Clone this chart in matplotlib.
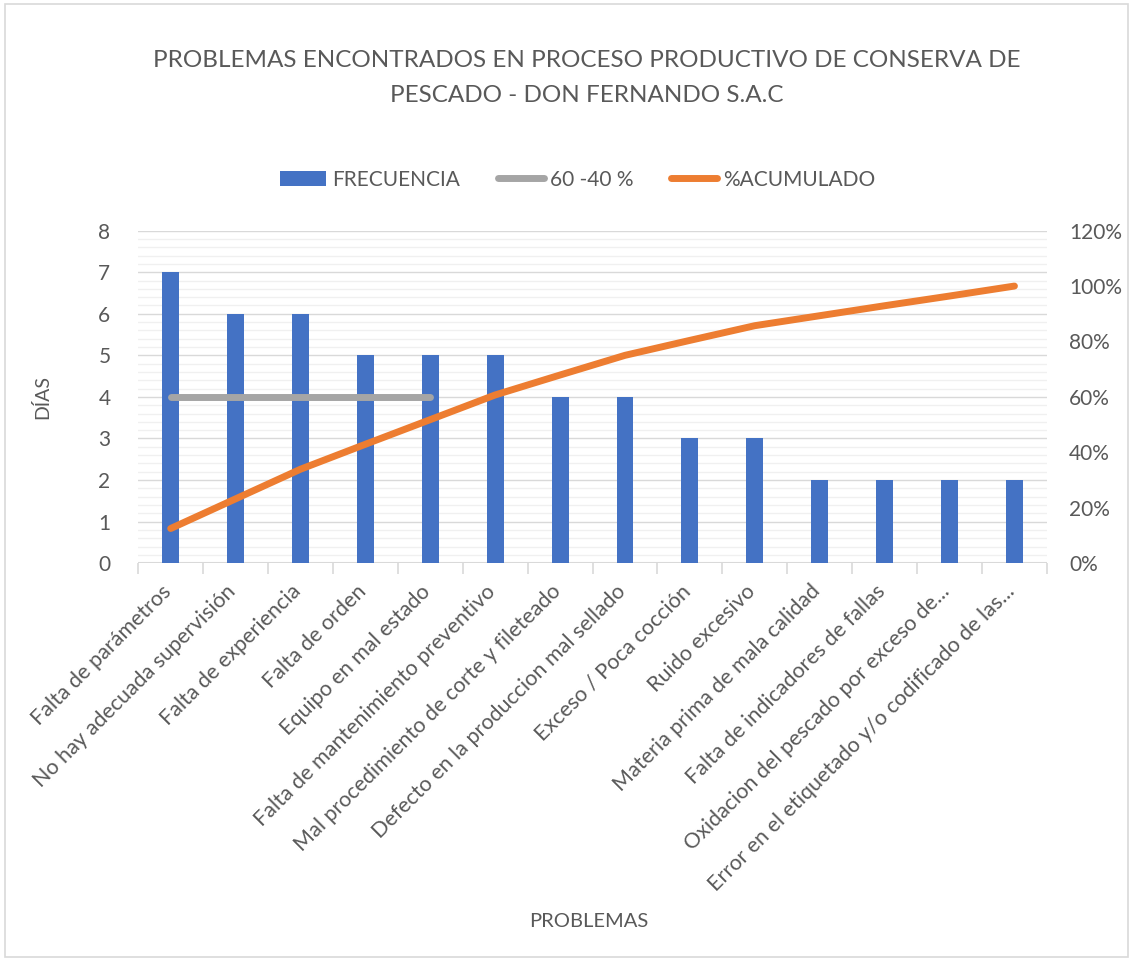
import matplotlib.pyplot as plt
from matplotlib.ticker import MultipleLocator, FuncFormatter
from matplotlib.lines import Line2D
from matplotlib.patches import Patch

plt.rcParams['font.family'] = ['Lato', 'DejaVu Sans']

problemas = [
    'Falta de parámetros',
    'No hay adecuada supervisión',
    'Falta de experiencia',
    'Falta de orden',
    'Equipo en mal estado',
    'Falta de mantenimiento preventivo',
    'Mal procedimiento de corte y fileteado',
    'Defecto en la produccion mal sellado',
    'Exceso / Poca cocción',
    'Ruido excesivo',
    'Materia prima de mala calidad',
    'Falta de indicadores de fallas',
    'Oxidacion del pescado por exceso de...',
    'Error en el etiquetado y/o codificado de las...',
]
frecuencia = [7, 6, 6, 5, 5, 5, 4, 4, 3, 3, 2, 2, 2, 2]
acumulado = [12.5, 23.2, 33.9, 42.9, 51.8, 60.7, 67.9, 75.0, 80.4, 85.7, 89.3, 92.9, 96.4, 100.0]
linea_60_40 = [4, 4, 4, 4, 4]

gris = '#595959'
azul = '#4472C4'
naranja = '#ED7D31'
gris_linea = '#A5A5A5'

fig = plt.figure(figsize=(11.33, 9.61), dpi=100)
ax = fig.add_axes([0.122, 0.414, 0.802, 0.346])
x = list(range(len(problemas)))

ax.bar(x, frecuencia, width=0.26, color=azul, zorder=3)
ax.plot(x[:len(linea_60_40)], linea_60_40, color=gris_linea, lw=5,
        solid_capstyle='round', zorder=4)
ax.set_xlim(-0.5, len(problemas) - 0.5)
ax.set_ylim(0, 8)
ax.yaxis.set_major_locator(MultipleLocator(1))
ax.yaxis.set_minor_locator(MultipleLocator(0.2))
ax.grid(axis='y', which='major', color='#D9D9D9', lw=1, zorder=0)
ax.grid(axis='y', which='minor', color='#F0F0F0', lw=1, zorder=0)
for s in ax.spines.values():
    s.set_visible(False)
ax.axhline(0, color='#D9D9D9', lw=1.5, zorder=2)

# ticks en los limites de cada categoria, etiquetas giradas a 45 grados
ax.set_xticks([i - 0.5 for i in range(len(problemas) + 1)])
ax.set_xticklabels([])
ax.tick_params(axis='x', length=8, color='#D9D9D9', width=1.2)
ax.tick_params(axis='y', which='both', length=0)
ax.tick_params(axis='y', labelsize=15, labelcolor=gris, pad=20)
for i, lab in enumerate(problemas):
    ax.annotate(lab, xy=(i, 0), xycoords=('data', 'axes fraction'),
                xytext=(-7, -13), textcoords='offset points',
                rotation=45, ha='right', va='top', rotation_mode='anchor',
                fontsize=15.5, color=gris)

ax.set_ylabel('DÍAS', fontsize=14, color=gris, labelpad=34)

# eje secundario: % acumulado
ax2 = ax.twinx()
ax2.plot(x, acumulado, color=naranja, lw=5, solid_capstyle='round', zorder=5)
ax2.set_ylim(0, 120)
ax2.yaxis.set_major_locator(MultipleLocator(20))
ax2.yaxis.set_major_formatter(FuncFormatter(lambda v, p: f'{v:.0f}%'))
ax2.tick_params(axis='y', length=0, labelsize=15, labelcolor=gris, pad=16)
for s in ax2.spines.values():
    s.set_visible(False)

fig.text(0.52, 0.035, 'PROBLEMAS', ha='center', fontsize=14.5, color=gris)
fig.suptitle('PROBLEMAS ENCONTRADOS EN PROCESO PRODUCTIVO DE CONSERVA DE\nPESCADO - DON FERNANDO S.A.C',
             x=0.518, y=0.948, fontsize=17.5, color=gris, linespacing=1.85)

handles = [
    Patch(facecolor=azul),
    Line2D([], [], color=gris_linea, lw=5, solid_capstyle='round'),
    Line2D([], [], color=naranja, lw=5, solid_capstyle='round'),
]
fig.legend(handles, ['FRECUENCIA', '60 -40 %', '%ACUMULADO'], loc='center',
           bbox_to_anchor=(0.51, 0.813), ncol=3, frameon=False, fontsize=15,
           labelcolor=gris, handlelength=2.2, handletextpad=0.3, columnspacing=1.8)

fig.add_artist(plt.Rectangle((0.004, 0.004), 0.992, 0.992, transform=fig.transFigure,
                             fill=False, edgecolor='#D9D9D9', lw=1.2))

fig.savefig('out.png', dpi=100, facecolor='white')
